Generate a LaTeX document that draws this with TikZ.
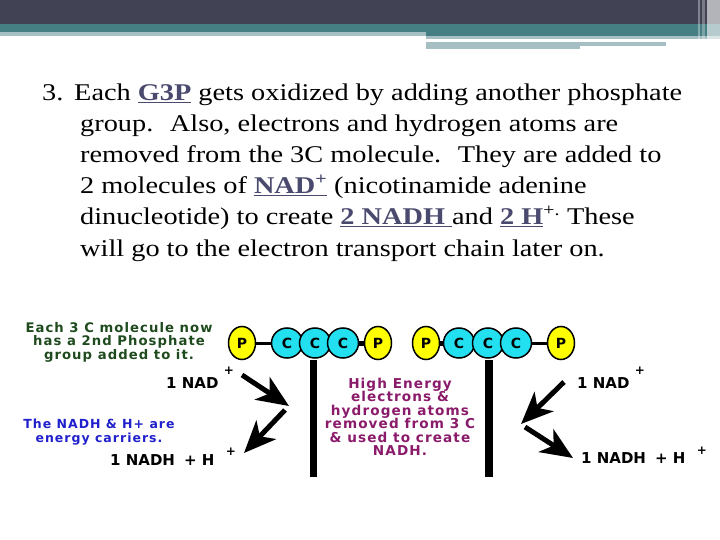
\documentclass[tikz,border=0pt]{standalone}
\usepackage{fontspec}
\setmainfont[FakeStretch=1.18]{Liberation Serif}
\newfontfamily\pixfont[LetterSpace=8]{DejaVu Sans Bold}
\newfontfamily\lblfont{DejaVu Sans Bold}
\usetikzlibrary{shapes.geometric,arrows.meta}
\definecolor{hdrdark}{HTML}{414254}
\definecolor{hdrteal}{HTML}{467F83}
\definecolor{hdrlight}{HTML}{A5BFC2}
\definecolor{linkblue}{HTML}{4A4A6E}
\definecolor{pyellow}{HTML}{FFFF00}
\definecolor{ccyan}{HTML}{22E0F0}
\definecolor{txtgreen}{HTML}{1E4A1E}
\definecolor{txtblue}{HTML}{2020CC}
\definecolor{txtpurple}{HTML}{8A1A6A}
\newcommand{\lk}[1]{\textcolor{linkblue}{\textbf{\underline{#1}}}}
\tikzset{
  body/.style={anchor=base west, inner sep=0pt, font=\fontsize{24}{24}\selectfont},
  pgroup/.style={ellipse, draw=black, line width=1.5pt, fill=pyellow, minimum width=27pt, minimum height=33pt, inner sep=0pt, font=\lblfont\fontsize{14}{14}\selectfont},
  catom/.style={ellipse, draw=black, line width=1.5pt, fill=ccyan, minimum width=31pt, minimum height=30pt, inner sep=0pt, font=\lblfont\fontsize{14}{14}\selectfont},
  thinbond/.style={line width=3pt},
  thickbond/.style={line width=5pt},
  bigarrow/.style={line width=5pt, -{Stealth[length=32pt,width=27pt,inset=9pt]}},
  nadlbl/.style={anchor=base west, inner sep=0pt, font=\lblfont\fontsize{15}{15}\selectfont},
  plus/.style={inner sep=0pt, font=\lblfont\fontsize{12}{12}\selectfont},
  note/.style={align=center, inner sep=0pt}
}
\begin{document}
\begin{tikzpicture}[x=1pt,y=-1pt]
\useasboundingbox (0,0) rectangle (720,540);
% header
\fill[hdrdark] (0,0) rectangle (720,24);
\fill[hdrteal] (0,24) rectangle (720,32);
\fill[hdrteal] (426,32) rectangle (720,36);
\fill[hdrlight] (0,32) rectangle (426,36);
\fill[hdrlight] (426,36) rectangle (720,39);
\fill[hdrlight] (426,42) rectangle (666,46);
\fill[hdrlight] (426,46) rectangle (580,49);
\fill[white,opacity=0.35] (698,0) rectangle (700,49);
\fill[white,opacity=0.3] (702,0) rectangle (705,46);
\fill[white,opacity=0.6] (707,0) rectangle (720,49);
% body text
\node[body] (l1) at (42,101) {3.\hspace{0.45em}Each \lk{G3P} gets oxidized by adding another phosphate};
\node[body] (l2) at (80,132) {group.\hspace{0.3em} Also, electrons and hydrogen atoms are};
\node[body] (l3) at (80,163) {removed from the 3C molecule.\hspace{0.3em} They are added to};
\node[body] (l4) at (80,194) {2 molecules of \lk{NAD\textsuperscript{+}} (nicotinamide adenine};
\node[body] (l5) at (80,225) {dinucleotide) to create \lk{2 NADH }and \lk{2 H}\textsuperscript{+.} These};
\node[body] (l6) at (80,256) {will go to the electron transport chain later on.};
% molecules
\node[pgroup] (p1) at (242,343) {P};
\node[catom] (c1) at (287,343) {C};
\node[catom] (c2) at (315,343) {C};
\node[catom] (c3) at (343,343) {C};
\node[pgroup] (p2) at (378,343) {P};
\node[pgroup] (p3) at (426,343) {P};
\node[catom] (c4) at (459,343) {C};
\node[catom] (c5) at (488,343) {C};
\node[catom] (c6) at (516,343) {C};
\node[pgroup] (p4) at (561,343) {P};
\draw[thinbond] (p1) -- (c1);
\draw[thickbond] (c3) -- (p2);
\draw[thickbond] (p3) -- (c4);
\draw[thinbond] (c6) -- (p4);
% bars
\fill[black] (310,360) rectangle (317,477);
\fill[black] (485,360) rectangle (493,477);
% notes
\node[note, text=txtgreen, font=\pixfont\fontsize{13.2}{13.5}\selectfont] (n1) at (119,342) {Each 3 C molecule now\\has a 2nd Phosphate\\group added to it.};
\node[note, text=txtblue, font=\pixfont\fontsize{12.5}{13.5}\selectfont] (n2) at (99,432) {The NADH \& H+ are\\energy carriers.};
\node[note, text=txtpurple, font=\pixfont\fontsize{13.6}{13.5}\selectfont] (n3) at (400,417) {High Energy\\electrons \&\\hydrogen atoms\\removed from 3 C\\\& used to create\\NADH.};
% labels
\node[nadlbl] (nadL) at (166,388) {1 NAD};
\node[plus] (nadLp) at (229,371) {+};
\node[nadlbl] (nadhL) at (110,465) {1 NADH\hspace{0.6em}+ H};
\node[plus] (nadhLp) at (231,452) {+};
\node[nadlbl] (nadR) at (577,388) {1 NAD};
\node[plus] (nadRp) at (640,371) {+};
\node[nadlbl] (nadhR) at (581,463) {1 NADH\hspace{0.6em}+ H};
\node[plus] (nadhRp) at (702,451) {+};
% arrows
\coordinate (a1s) at (242,375);
\coordinate (a1e) at (289,406);
\coordinate (a2s) at (285,410);
\coordinate (a2e) at (244,453);
\coordinate (a3s) at (564,382);
\coordinate (a3e) at (521,424);
\coordinate (a4s) at (525,427);
\coordinate (a4e) at (573,458);
\draw[bigarrow] (a1s) -- (a1e);
\draw[bigarrow] (a2s) -- (a2e);
\draw[bigarrow] (a3s) -- (a3e);
\draw[bigarrow] (a4s) -- (a4e);
\end{tikzpicture}
\end{document}
